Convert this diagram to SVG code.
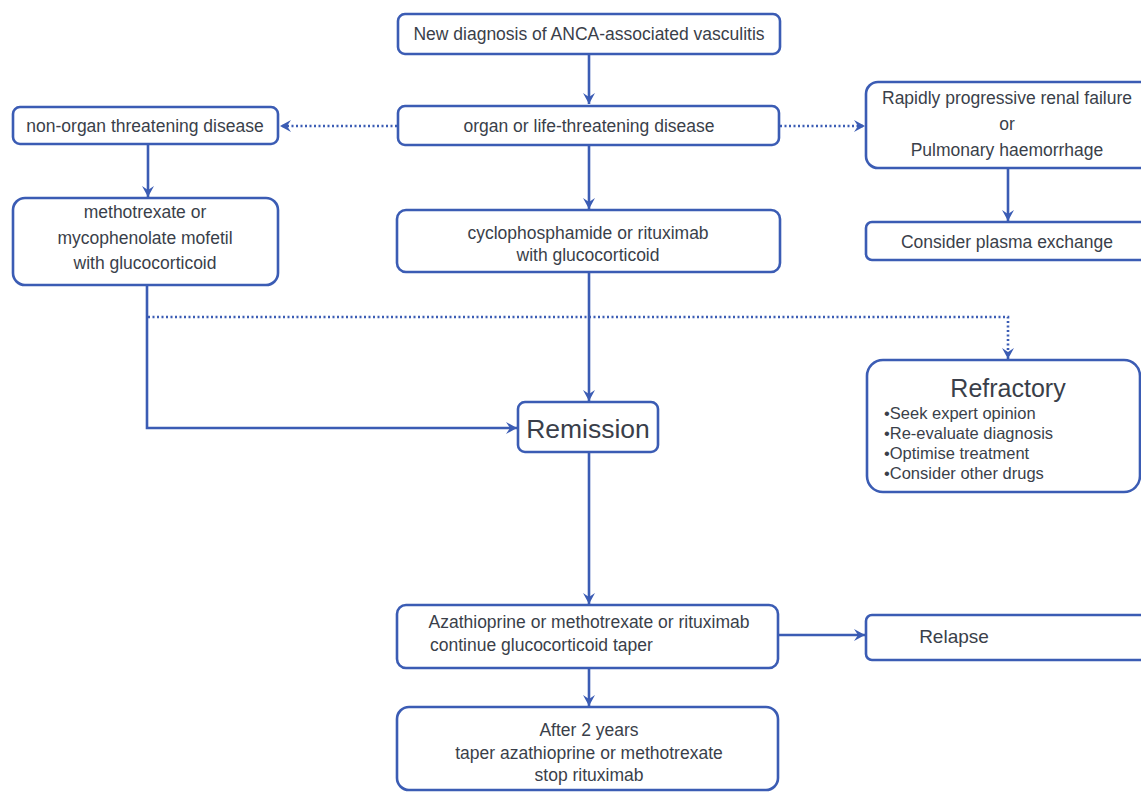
<svg xmlns="http://www.w3.org/2000/svg" width="1141" height="792" viewBox="0 0 1141 792">
<defs>
<style>
.box{fill:#ffffff;stroke:#3b5cb4;stroke-width:2.6}
.t{font-family:"Liberation Sans",Arial,sans-serif;font-size:17.5px;fill:#3a3f4a;text-anchor:middle}
.b{font-family:"Liberation Sans",Arial,sans-serif;font-size:16.5px;fill:#3a3f4a;text-anchor:start}
.c{fill:none;stroke:#3b5cb4;stroke-width:2.6}
.d{fill:none;stroke:#3b5cb4;stroke-width:2.6;stroke-dasharray:2 2.5}
</style>
<marker id="ah" viewBox="0 0 14 14" refX="12" refY="7" markerWidth="14" markerHeight="14" markerUnits="userSpaceOnUse" orient="auto">
<path d="M1,1 L12,7 L1,13 L5,7 Z" fill="#3b5cb4"/>
</marker>
</defs>
<rect width="1141" height="792" fill="#ffffff"/>
<g id="connectors">
<line class="c" x1="589" y1="54" x2="589" y2="104" marker-end="url(#ah)"/>
<line class="d" x1="397" y1="126" x2="280" y2="126" marker-end="url(#ah)"/>
<line class="d" x1="780" y1="126" x2="865" y2="126" marker-end="url(#ah)"/>
<line class="c" x1="148" y1="145" x2="148" y2="197" marker-end="url(#ah)"/>
<line class="c" x1="589" y1="145" x2="589" y2="209" marker-end="url(#ah)"/>
<line class="c" x1="1008" y1="168" x2="1008" y2="221" marker-end="url(#ah)"/>
<line class="c" x1="589" y1="272" x2="589" y2="401" marker-end="url(#ah)"/>
<path class="d" d="M148,317 H1008 V359" marker-end="url(#ah)"/>
<path class="c" d="M147,285 V428 H517" marker-end="url(#ah)"/>
<line class="c" x1="589" y1="453" x2="589" y2="604" marker-end="url(#ah)"/>
<line class="c" x1="778" y1="635" x2="865" y2="635" marker-end="url(#ah)"/>
<line class="c" x1="589" y1="668" x2="589" y2="706" marker-end="url(#ah)"/>
</g>
<g id="n-new">
<rect class="box" x="398" y="14" width="382" height="40" rx="7"/>
<text class="t" x="589" y="40">New diagnosis of ANCA-associated vasculitis</text>
</g>
<g id="n-organ">
<rect class="box" x="398" y="106" width="381" height="39" rx="7"/>
<text class="t" x="589" y="132">organ or life-threatening disease</text>
</g>
<g id="n-nonorgan">
<rect class="box" x="13" y="107" width="265" height="37" rx="7"/>
<text class="t" x="145" y="132">non-organ threatening disease</text>
</g>
<g id="n-mtx">
<rect class="box" x="13" y="198" width="265" height="87" rx="12"/>
<text class="t" x="145" y="218">methotrexate or</text>
<text class="t" x="145" y="244">mycophenolate mofetil</text>
<text class="t" x="145" y="269">with glucocorticoid</text>
</g>
<g id="n-rapid">
<rect class="box" x="866" y="82" width="290" height="86" rx="12"/>
<text class="t" x="1007" y="104">Rapidly progressive renal failure</text>
<text class="t" x="1007" y="130">or</text>
<text class="t" x="1007" y="156">Pulmonary haemorrhage</text>
</g>
<g id="n-plasma">
<rect class="box" x="866" y="222" width="290" height="38" rx="6"/>
<text class="t" x="1007" y="248">Consider plasma exchange</text>
</g>
<g id="n-cyc">
<rect class="box" x="397" y="210" width="383" height="62" rx="9"/>
<text class="t" x="588" y="239">cyclophosphamide or rituximab</text>
<text class="t" x="588" y="261">with glucocorticoid</text>
</g>
<g id="n-remission">
<rect class="box" x="518" y="402" width="140" height="50" rx="7"/>
<text class="t" x="588" y="438" style="font-size:26.5px">Remission</text>
</g>
<g id="n-refractory">
<rect class="box" x="867" y="360" width="273" height="132" rx="16"/>
<text class="t" x="1008" y="397" style="font-size:25px">Refractory</text>
<text class="b" x="884" y="419">•Seek expert opinion</text>
<text class="b" x="884" y="439">•Re-evaluate diagnosis</text>
<text class="b" x="884" y="459">•Optimise treatment</text>
<text class="b" x="884" y="479">•Consider other drugs</text>
</g>
<g id="n-aza">
<rect class="box" x="397" y="605" width="381" height="63" rx="9"/>
<text class="t" x="589" y="628">Azathioprine or methotrexate or rituximab</text>
<text class="t" x="430" y="651" style="text-anchor:start">continue glucocorticoid taper</text>
</g>
<g id="n-relapse">
<rect class="box" x="866" y="615" width="290" height="45" rx="6"/>
<text class="t" x="954" y="643" style="font-size:19px">Relapse</text>
</g>
<g id="n-after">
<rect class="box" x="397" y="707" width="381" height="83" rx="12"/>
<text class="t" x="589" y="736">After 2 years</text>
<text class="t" x="589" y="759">taper azathioprine or methotrexate</text>
<text class="t" x="589" y="781">stop rituximab</text>
</g>
</svg>
